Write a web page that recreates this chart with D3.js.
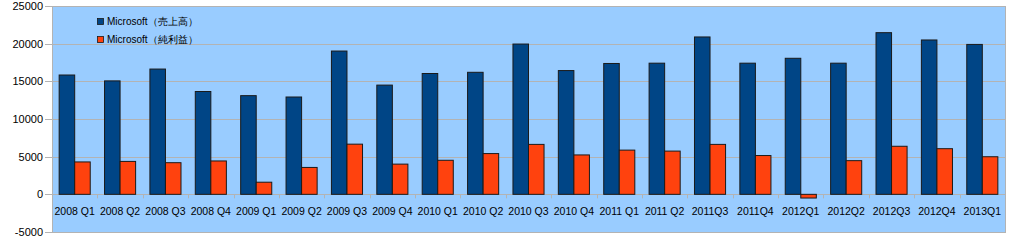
<!DOCTYPE html>
<html>
<head>
<meta charset="utf-8">
<script src="https://cdn.jsdelivr.net/npm/d3@7"></script>
<style>
  html, body { margin: 0; padding: 0; background: #fff; }
  text { font-family: "Liberation Sans", Arial, sans-serif; }
</style>
</head>
<body>
<svg id="chart"></svg>
<script>
// quarters (21 groups)
var quarters = ["2008 Q1","2008 Q2","2008 Q3","2008 Q4","2009 Q1","2009 Q2","2009 Q3","2009 Q4",
  "2010 Q1","2010 Q2","2010 Q3","2010 Q4","2011 Q1","2011 Q2","2011Q3","2011Q4",
  "2012Q1","2012Q2","2012Q3","2012Q4","2013Q1"];
var revenue = [15840,15060,16630,13650,13100,12920,19020,14500,16040,16200,19950,16430,
  17370,17410,20890,17410,18060,17410,21460,20490,19900];
var netIncome = [4300,4370,4200,4430,1610,3570,6660,4010,4520,5410,6630,5230,
  5870,5740,6630,5150,-490,4470,6380,6060,4990];
var seriesNames = ["Microsoft（売上高）", "Microsoft（純利益）"];
var seriesColors = ["#004586", "#ff420e"];
var yTicks = [-5000,0,5000,10000,15000,20000,25000];

var W = 1012, H = 244;
var plot = {left: 52, right: 1005, top: 6, bottom: 232};

var svg = d3.select("#chart").attr("width", W).attr("height", H);

var y = d3.scaleLinear().domain([-5000, 25000]).range([plot.bottom, plot.top]);
var x = d3.scaleBand().domain(quarters).range([plot.left, plot.right]).paddingInner(0).paddingOuter(0);
var inner = d3.scaleBand().domain([0, 1]).range([0, x.bandwidth()]).paddingOuter(0.46).paddingInner(0);

// plot background
svg.append("rect")
  .attr("x", plot.left + 0.5).attr("y", plot.top + 0.5)
  .attr("width", plot.right - plot.left).attr("height", plot.bottom - plot.top)
  .attr("fill", "#99ccff").attr("stroke", "#b3b3b3").attr("stroke-width", 1);

// grid + y labels
var yAxis = svg.append("g");
yAxis.selectAll("line.grid").data(yTicks).enter().append("line")
  .attr("x1", plot.left - 7).attr("x2", plot.right)
  .attr("y1", function(d){ return Math.round(y(d)) + 0.5; })
  .attr("y2", function(d){ return Math.round(y(d)) + 0.5; })
  .attr("stroke", "#b3b3b3").attr("stroke-width", 1);
yAxis.selectAll("text").data(yTicks).enter().append("text")
  .attr("x", 43).attr("y", function(d){ return y(d) + 4; })
  .attr("text-anchor", "end").attr("font-size", "11px").attr("fill", "#000")
  .text(function(d){ return d; });

// x tick marks on zero line
svg.append("g").selectAll("line").data(d3.range(quarters.length + 1)).enter().append("line")
  .attr("x1", function(i){ return Math.round(plot.left + i * x.step()) + 0.5; })
  .attr("x2", function(i){ return Math.round(plot.left + i * x.step()) + 0.5; })
  .attr("y1", y(0)).attr("y2", y(0) + 4)
  .attr("stroke", "#b3b3b3");

// bars
var rows = quarters.map(function(q, i){ return {q: q, v: [revenue[i], netIncome[i]]}; });
var groups = svg.append("g").selectAll("g").data(rows).enter().append("g")
  .attr("transform", function(d){ return "translate(" + x(d.q) + ",0)"; });
groups.selectAll("rect").data(function(d){ return d.v.map(function(v, k){ return {k: k, v: v}; }); })
  .enter().append("rect")
  .attr("x", function(d){ return inner(d.k); })
  .attr("width", inner.bandwidth())
  .attr("y", function(d){ return y(Math.max(0, d.v)); })
  .attr("height", function(d){ return Math.abs(y(d.v) - y(0)); })
  .attr("fill", function(d){ return seriesColors[d.k]; })
  .attr("stroke", "#1a1a1a").attr("stroke-width", 1);

// category labels
svg.append("g").selectAll("text").data(quarters).enter().append("text")
  .attr("x", function(d){ return x(d) + x.bandwidth() / 2; })
  .attr("y", 215)
  .attr("text-anchor", "middle").attr("font-size", "10.5px").attr("fill", "#000")
  .text(function(d){ return d; });

// legend
var legend = svg.append("g").attr("transform", "translate(97,18)");
seriesNames.forEach(function(name, i){
  legend.append("rect").attr("x", 0.5).attr("y", i * 18 + 0.5).attr("width", 6).attr("height", 6)
    .attr("fill", seriesColors[i]).attr("stroke", "#1a1a1a").attr("stroke-width", 0.8);
  legend.append("text").attr("x", 10).attr("y", i * 18 + 7)
    .attr("font-size", "10px").attr("fill", "#000").text(name);
});
</script>
</body>
</html>
